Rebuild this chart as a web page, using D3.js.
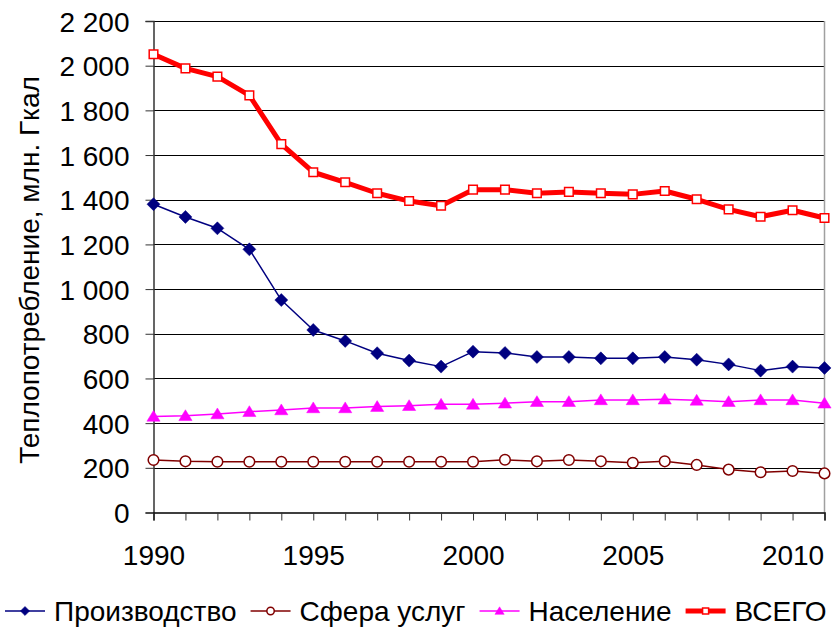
<!doctype html>
<html lang="ru">
  <head>
    <meta charset="UTF-8" />
    <title>Теплопотребление</title>
    <style>
      body {
        margin: 0;
        background: #fff;
      }
      svg {
        display: block;
        font-family: "Liberation Sans", Arial, sans-serif;
      }
      .grid line {
        stroke: #000;
        stroke-width: 1px;
      }
      .axis text {
        font-size: 28px;
        fill: #000;
      }
    </style>
  </head>
  <body>
    <script src="https://cdn.jsdelivr.net/npm/d3@7"></script>
    <script>
      // годы и ряды (млн. Гкал)
      const years = d3.range(1990, 2012);
      const yTicks = [0, 200, 400, 600, 800, 1000, 1200, 1400, 1600, 1800, 2000, 2200];
      const xTickLabels = [1990, 1995, 2000, 2005, 2010];

      const production = [1380, 1323, 1272, 1178, 951, 817, 768, 713, 680, 653, 720,
        714, 696, 696, 690, 690, 696, 684, 663, 635, 653, 647];
      const services = [235, 229, 227, 227, 227, 227, 227, 227, 227, 227, 227,
        236, 229, 235, 229, 223, 229, 213, 192, 180, 186, 175];
      const population = [430, 433, 441, 451, 459, 468, 468, 474, 478, 484, 484,
        489, 496, 496, 504, 504, 507, 502, 496, 504, 504, 489];
      const total = [2051, 1988, 1951, 1867, 1649, 1523, 1478, 1429, 1394, 1373, 1445,
        1445, 1429, 1435, 1429, 1424, 1439, 1402, 1357, 1324, 1353, 1318];

      const series = [
        { name: "Производство", values: production, color: "#000080", width: 1.5, marker: "diamond" },
        { name: "Сфера услуг", values: services, color: "#800000", width: 1.5, marker: "circle" },
        { name: "Население", values: population, color: "#ff00ff", width: 1.5, marker: "triangle" },
        { name: "ВСЕГО", values: total, color: "#ff0000", width: 5, marker: "square" },
      ];

      const W = 836, H = 627;
      const plotL = 153.5, plotR = 824.5, plotT = 21, plotB = 512.5;

      const svg = d3.select("body").append("svg").attr("width", W).attr("height", H);

      const x = d3.scaleLinear().domain([1990, 2011]).range([plotL, plotR]);
      const y = d3.scaleLinear().domain([0, 2200]).range([plotB, plotT]);

      const fmt = d3.formatLocale({ decimal: ",", thousands: " ", grouping: [3], currency: ["", ""] }).format(",d");

      // сетка
      svg.append("g")
        .attr("class", "grid")
        .selectAll("line")
        .data(yTicks.filter((d) => d > 0))
        .join("line")
        .attr("x1", plotL)
        .attr("x2", plotR)
        .attr("y1", (d) => Math.round(y(d)) + 0.5)
        .attr("y2", (d) => Math.round(y(d)) + 0.5);

      // правая граница области построения
      svg.append("line")
        .attr("x1", plotR).attr("x2", plotR)
        .attr("y1", plotT).attr("y2", plotB)
        .attr("stroke", "#a0a0a0").attr("stroke-width", 1.5);

      // ось Y
      const yAxis = svg.append("g")
        .attr("class", "axis")
        .attr("transform", `translate(${plotL},0)`)
        .call(d3.axisLeft(y).tickValues(yTicks).tickFormat(fmt).tickSize(8).tickPadding(16));
      yAxis.select(".domain").attr("stroke", "#333").attr("stroke-width", 1.5);
      yAxis.selectAll(".tick line").attr("stroke", "#333");
      yAxis.selectAll(".tick text").attr("dy", "0.36em");

      // ось X
      const xAxis = svg.append("g")
        .attr("class", "axis")
        .attr("transform", `translate(0,${plotB})`)
        .call(d3.axisBottom(x).tickValues(years).tickSize(8).tickPadding(25)
          .tickFormat((d) => (xTickLabels.includes(d) ? d : "")));
      xAxis.select(".domain").attr("stroke", "#000").attr("stroke-width", 1.5);
      xAxis.selectAll(".tick line").attr("stroke", "#333");

      // подпись оси Y
      svg.append("text")
        .attr("transform", `translate(39,270) rotate(-90)`)
        .attr("text-anchor", "middle")
        .attr("font-size", 28)
        .text("Теплопотребление, млн. Гкал");

      // маркеры в стиле Excel
      const markerPath = {
        diamond: (r) => `M0,${-r}L${r},0L0,${r}L${-r},0Z`,
        circle: (r) => d3.symbol().type(d3.symbolCircle).size(Math.PI * r * r)(),
        triangle: (r) => `M0,${-r}L${r * 1.1},${r * 0.8}L${-r * 1.1},${r * 0.8}Z`,
        square: (r) => `M${-r},${-r}H${r}V${r}H${-r}Z`,
      };
      const markerSize = { diamond: 6.5, circle: 5.3, triangle: 6, square: 4.3 };

      function drawMarker(g, s, k) {
        const p = g.append("path").attr("d", markerPath[s.marker](markerSize[s.marker] * k));
        if (s.marker === "diamond" || s.marker === "triangle") {
          p.attr("fill", s.color).attr("stroke", s.color).attr("stroke-width", 0.5);
        } else {
          p.attr("fill", "#fff").attr("stroke", s.color).attr("stroke-width", 1.5);
        }
      }

      const line = d3.line().x((d, i) => x(years[i])).y((d) => y(d));

      series.forEach((s) => {
        svg.append("path")
          .datum(s.values)
          .attr("fill", "none")
          .attr("stroke", s.color)
          .attr("stroke-width", s.width)
          .attr("stroke-linejoin", "round")
          .attr("d", line);
        svg.append("g")
          .selectAll("g")
          .data(s.values)
          .join("g")
          .attr("transform", (d, i) => `translate(${x(years[i])},${y(d)})`)
          .each(function () {
            drawMarker(d3.select(this), s, 1);
          });
      });

      // легенда
      const legendY = 611;
      let lx = 5;
      series.forEach((s) => {
        const g = svg.append("g").attr("transform", `translate(${lx},${legendY})`);
        g.append("line")
          .attr("x1", 0).attr("x2", 40)
          .attr("stroke", s.color)
          .attr("stroke-width", s.width);
        const m = g.append("g").attr("transform", "translate(20,0)");
        drawMarker(m, s, 0.7);
        const t = g.append("text")
          .attr("x", 49)
          .attr("dy", "0.36em")
          .attr("font-size", 28)
          .text(s.name);
        lx += 49 + t.node().getComputedTextLength() + 14;
      });
    </script>
  </body>
</html>
